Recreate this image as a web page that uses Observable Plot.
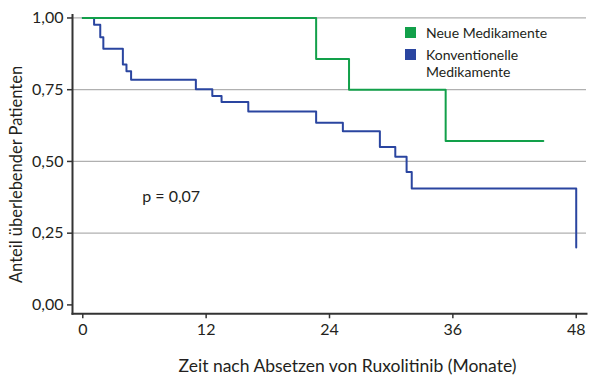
<!DOCTYPE html>
<html>
<head>
<meta charset="utf-8">
<script src="https://cdn.jsdelivr.net/npm/d3@7"></script>
<script src="https://cdn.jsdelivr.net/npm/@observablehq/plot@0.6"></script>
<style>
  html, body { margin: 0; padding: 0; background: #fff; }
  #wrap { position: relative; width: 600px; height: 377px; font-family: Lato, "Open Sans", sans-serif; color: #231f20; }
  #legend { position: absolute; left: 405px; top: 24px; font-size: 14px; line-height: 17px; }
  .item { display: flex; align-items: flex-start; margin-bottom: 5px; }
  .sw { width: 11px; height: 11px; flex: none; margin-right: 10px; margin-top: 3px; }
</style>
</head>
<body>
<div id="wrap"></div>
<script>
// Kaplan-Meier: Neue Medikamente
const newTimes  = [0, 22.7, 25.9, 35.3, 44.8];
const newSurv   = [1.0, 0.857, 0.75, 0.571, 0.571];
// Kaplan-Meier: Konventionelle Medikamente
const convTimes = [0, 1.1, 1.7, 2.0, 3.9, 4.25, 4.7, 11.0, 12.6, 13.5, 16.1, 22.7, 25.3, 28.9, 30.4, 31.5, 32.0, 48.0];
const convSurv  = [1.0, 0.976, 0.933, 0.893, 0.838, 0.814, 0.785, 0.752, 0.728, 0.707, 0.674, 0.635, 0.605, 0.550, 0.516, 0.463, 0.406, 0.20];

const seriesNames  = ["Neue Medikamente", "Konventionelle Medikamente"];
const seriesColors = ["#12a04a", "#2a45a0"];
const xTicks = [0, 12, 24, 36, 48];
const yTicks = [0, 0.25, 0.5, 0.75, 1];
const gridTicks = [0.25, 0.5, 0.75, 1];
const xTitle = "Zeit nach Absetzen von Ruxolitinib (Monate)";
const yTitle = "Anteil überlebender Patienten";
const pText = ["p = 0,07"];
const pX = [8.6];
const pY = [0.375];

const newData  = newTimes.map((t, i) => ({t, s: newSurv[i]}));
const convData = convTimes.map((t, i) => ({t, s: convSurv[i]}));
const pData = pText.map((label, i) => ({label, x: pX[i], y: pY[i]}));

const fmt = d => d.toFixed(2).replace(".", ",");

const chart = Plot.plot({
  width: 600,
  height: 377,
  marginLeft: 72,
  marginRight: 14,
  marginTop: 14.6,
  marginBottom: 63.7,
  style: { fontFamily: "Lato, 'Open Sans', sans-serif", fontSize: "16px", color: "#231f20", background: "#fff" },
  x: { domain: [-1, 49] },
  y: { domain: [-0.031, 1.01] },
  marks: [
    Plot.gridY(gridTicks, { stroke: "#b0b0b0", strokeOpacity: 1, strokeWidth: 1.3 }),
    Plot.line(convData, { x: "t", y: "s", curve: "step-after", stroke: seriesColors[1], strokeWidth: 2 }),
    Plot.line(newData, { x: "t", y: "s", curve: "step-after", stroke: seriesColors[0], strokeWidth: 2 }),
    Plot.axisY({ ticks: yTicks, tickFormat: fmt, tickSize: 5, tickPadding: 4, label: null, stroke: "#333", strokeWidth: 1.5 }),
    Plot.axisX({ ticks: xTicks, tickSize: 5, tickPadding: 5, label: null, stroke: "#333", strokeWidth: 1.5 }),
    Plot.frame({ anchor: "left", stroke: "#333", strokeWidth: 2 }),
    Plot.frame({ anchor: "bottom", stroke: "#333", strokeWidth: 2 }),
    Plot.text([yTitle], { frameAnchor: "left", textAnchor: "middle", lineAnchor: "middle", rotate: -90, dx: -56, dy: 10, fontSize: 16.5, fill: "#231f20" }),
    Plot.text([xTitle], { frameAnchor: "bottom", textAnchor: "middle", lineAnchor: "middle", dx: 18, dy: 53, fontSize: 17.5, fill: "#231f20" }),
    Plot.text(pData, { x: "x", y: "y", text: "label", fontSize: 16, fill: "#231f20" })
  ]
});

const wrap = document.getElementById("wrap");
wrap.appendChild(chart);

const legend = document.createElement("div");
legend.id = "legend";
seriesNames.forEach((name, i) => {
  const item = document.createElement("div");
  item.className = "item";
  const sw = document.createElement("span");
  sw.className = "sw";
  sw.style.background = seriesColors[i];
  const label = document.createElement("span");
  label.innerHTML = name === "Konventionelle Medikamente" ? "Konventionelle<br>Medikamente" : name;
  item.appendChild(sw);
  item.appendChild(label);
  legend.appendChild(item);
});
wrap.appendChild(legend);
</script>
</body>
</html>
